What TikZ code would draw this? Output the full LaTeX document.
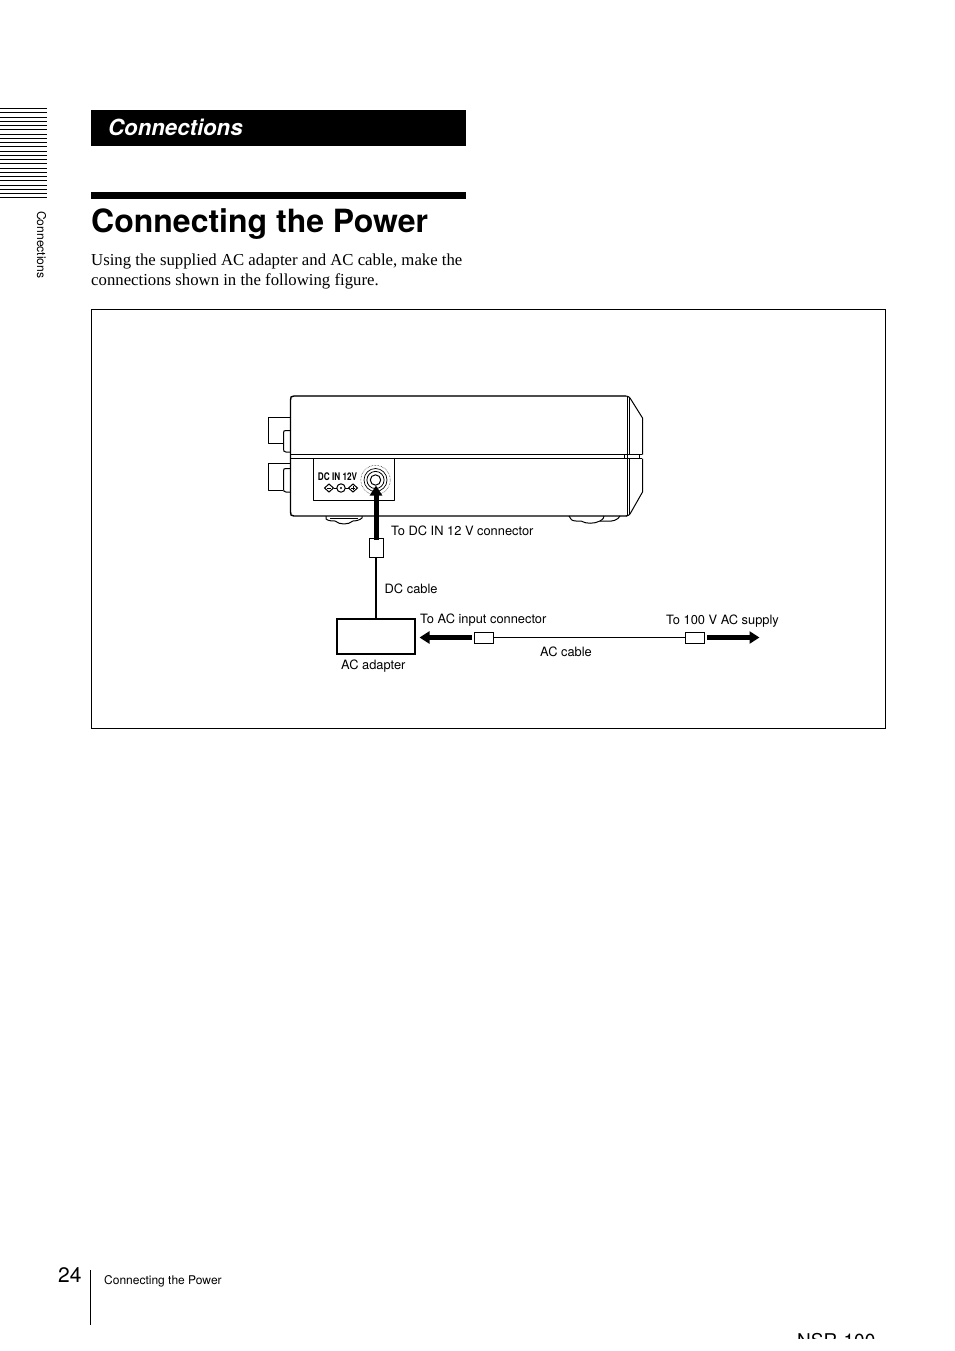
\documentclass[tikz,border=0pt]{standalone}
\usepackage{fontspec}
\usepackage{graphicx}
\setmainfont{Liberation Serif}
\newfontfamily\hv{TeX Gyre Heros}
\usetikzlibrary{arrows.meta}
\tikzset{
  x=1pt,y=-1pt,
  txt/.style={inner sep=0pt,anchor=base west,font=\hv\fontsize{12.85}{13}\selectfont},
  plugbox/.style={draw=black,line width=1pt,fill=white,inner sep=0pt,minimum width=#1},
  fatarrow/.style={line width=5pt,-{Triangle[width=12pt,length=10pt]}},
  cable/.style={line width=2pt},
  thin cable/.style={line width=0.9pt},
  dev/.style={line width=1pt,line join=round},
}
\begin{document}
\begin{tikzpicture}
\useasboundingbox (0,0) rectangle (954,1351);
\fill[white] (0,0) rectangle (954,1351);
% side strip
\foreach \i in {0,...,21}{\draw[line width=1pt] (0,108.5+\i*4.26) -- (46.5,108.5+\i*4.26);}
\node[txt,rotate=-90,font=\hv\fontsize{12.1}{12}\selectfont] (sidelabel) at (37,211) {Connections};
% headings
\fill[black] (91,110) rectangle (466,146);
\node[txt,text=white,font=\hv\bfseries\itshape\fontsize{22.2}{24}\selectfont] (section) at (108,135.5) {Connections};
\fill[black] (91,192) rectangle (466,199);
\node[txt,font=\hv\bfseries\fontsize{32}{34}\selectfont] (title) at (91,232) {Connecting the Power};
\node[txt,font=\rmfamily\fontsize{16.75}{18}\selectfont] (intro1) at (91,265) {Using the supplied AC adapter and AC cable, make the};
\node[txt,font=\rmfamily\fontsize{16.75}{18}\selectfont] (intro2) at (91,285) {connections shown in the following figure.};
% frame
\draw[line width=1pt] (91.5,309.5) rectangle (885.5,728.5);
% device
\draw[dev,line width=2pt,draw=black!70] (294,396) -- (626,396);
\draw[dev,line width=1.4pt] (294,396) .. controls (291,396) and (290.5,397) .. (290.5,400) -- (290.5,512) .. controls (290.5,515) and (291,516) .. (294,516) -- (627,516);
\draw[dev] (290,454.5) -- (642,454.5);
\draw[dev] (290,458.5) -- (642,458.5);
\draw[dev] (626,396) .. controls (628,396) and (629,397) .. (630,398) -- (642.5,418) -- (642.5,454.5);
\draw[dev] (642.5,458.5) -- (642.5,492) -- (630,514) .. controls (629,515) and (628,516) .. (626,516);
\draw[dev] (627.5,396) -- (627.5,516);
\draw[dev] (629.5,398) -- (629.5,454.5);
\draw[dev] (629.5,458.5) -- (629.5,514);
\draw[dev] (624.5,454.5) -- (624.5,458.5);
\draw[dev] (639.5,454.5) -- (639.5,458.5);
% left plugs
\draw[dev] (290,417.5) -- (268.5,417.5) -- (268.5,443.5) -- (283,443.5);
\draw[dev] (290,430.5) -- (286,430.5) .. controls (284,430.5) and (283.5,431) .. (283.5,433) -- (283.5,449) .. controls (283.5,451) and (284,452) .. (286,452) -- (290,452);
\draw[dev] (290,463.5) -- (268.5,463.5) -- (268.5,490.5) -- (283,490.5);
\draw[dev] (290,468.5) -- (286,468.5) .. controls (284,468.5) and (283.5,469) .. (283.5,471) -- (283.5,489) .. controls (283.5,491) and (284,492) .. (286,492) -- (290,492);
% feet
\draw[dev] (326,516) -- (326,519) .. controls (328,521) and (333,521) .. (335,521) .. controls (340,525) and (348,525) .. (353,521) .. controls (356,521) and (360,520) .. (362,518) -- (362,516);
\draw[dev,line width=0.8pt] (330,518) -- (358,518);
\draw[dev] (569,516) .. controls (570,519) and (572,521) .. (576,521) -- (581,521) .. controls (586,524) and (594,524) .. (600,521) -- (606,521) .. controls (612,522) and (618,520) .. (620,516);
\draw[dev] (600,521) .. controls (603,519) and (604,518) .. (604,516);
% panel
\draw[dev] (394.5,459) -- (394.5,500.5) -- (313.5,500.5) -- (313.5,459);
\node[inner sep=0pt,anchor=base] (dcin) at (337.5,480.5) {\scalebox{0.78}[1]{\hv\bfseries\fontsize{10.5}{10.5}\selectfont DC IN 12V}};
\coordinate (jack) at (375.5,480);
\draw[line width=0.5pt,densely dotted] (jack) circle[radius=14.7];
\draw[line width=0.7pt] (jack) circle[radius=11.5];
\draw[line width=0.8pt] (jack) circle[radius=8.6];
\draw[line width=1pt] (jack) circle[radius=5.2];
% polarity
\draw[line width=1pt] (329,484) -- (333.5,488) -- (329,492) -- (324.5,488) -- cycle;
\draw[line width=1pt] (341,488) circle[radius=4.2];
\fill (341,488) circle[radius=1.2];
\draw[line width=1pt] (353,484) -- (357.5,488) -- (353,492) -- (348.5,488) -- cycle;
\draw[line width=1pt] (333.5,488) -- (336.8,488) (345.2,488) -- (348.5,488);
\draw[line width=0.8pt] (327,488) -- (331,488) (351,488) -- (355,488) (353,486) -- (353,490);
% cable parts
\node[plugbox=14pt,minimum height=19pt] (dcplug) at (376,547.5) {};
\node[draw=black,line width=2pt,fill=white,inner sep=0pt,minimum width=78pt,minimum height=35pt] (adapter) at (376,636.5) {};
\node[plugbox=19pt,minimum height=11pt] (plugL) at (484,637.5) {};
\node[plugbox=19pt,minimum height=11pt] (plugR) at (695,637.5) {};
\coordinate (dctip) at (376,485.5);
\coordinate (lefttip) at (419.5,637.5);
\coordinate (righttip) at (759.5,637.5);
\draw[cable] (dcplug.south) -- (adapter.north);
\draw[thin cable] (plugL.east) -- (plugR.west);
\draw[fatarrow] ([yshift=-2.5pt]dcplug.north) -- (dctip);
\draw[fatarrow] ([xshift=-2pt]plugL.west) -- (lefttip);
\draw[fatarrow] ([xshift=2pt]plugR.east) -- (righttip);
% labels
\node[txt] (l1) at (391,535) {To DC IN 12 V connector};
\node[txt] (l2) at (384.5,593) {DC cable};
\node[txt] (l3) at (420,623) {To AC input connector};
\node[txt] (l4) at (666,624) {To 100 V AC supply};
\node[txt] (l5) at (540,656) {AC cable};
\node[txt] (l6) at (341,669) {AC adapter};
% footer
\node[txt,font=\hv\fontsize{21}{21}\selectfont] (pageno) at (58,1282) {24};
\draw[line width=1pt] (90.5,1270) -- (90.5,1325);
\node[txt,font=\hv\fontsize{12}{12}\selectfont] (foot) at (104,1284) {Connecting the Power};
\node[txt,font=\hv\fontsize{19}{19}\selectfont] (model) at (797,1347) {NSR-100};
\fill[white] (780,1339) rectangle (900,1351);
\end{tikzpicture}
\end{document}
